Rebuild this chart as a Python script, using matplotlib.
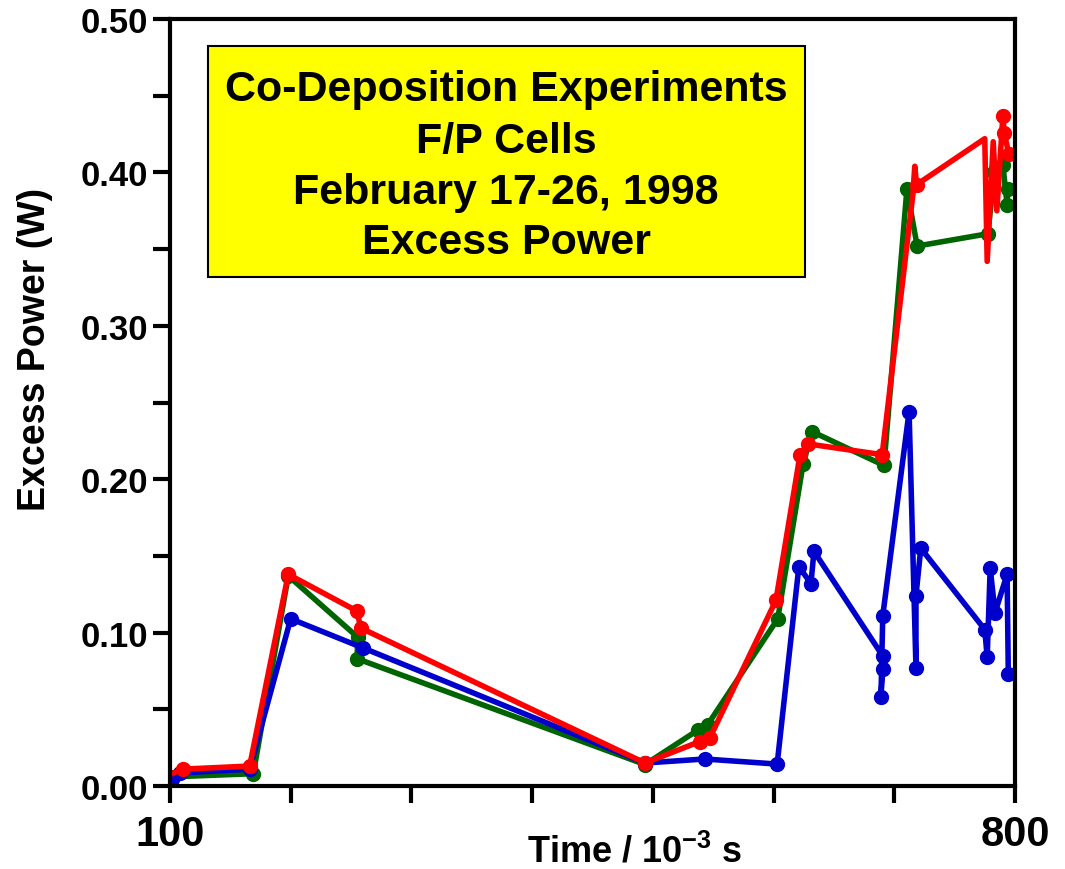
import matplotlib
matplotlib.use("Agg")
import matplotlib.pyplot as plt
import matplotlib.patches as patches
from matplotlib.ticker import MultipleLocator

plt.rcParams["font.family"] = ["Liberation Sans", "DejaVu Sans"]
plt.rcParams["font.weight"] = "bold"
plt.rcParams["mathtext.fontset"] = "custom"
plt.rcParams["mathtext.rm"] = "Liberation Sans:bold"
plt.rcParams["mathtext.bf"] = "Liberation Sans:bold"

# Datos
red_x = [101.5, 110.8, 166, 198, 255, 258, 493.5, 539, 547, 602, 622, 628.5,
         690, 715.5, 717, 718.5, 775, 777, 782, 785, 790, 791, 795]
red_y = [0.008, 0.011, 0.013, 0.138, 0.114, 0.103, 0.015, 0.029, 0.031, 0.121,
         0.216, 0.223, 0.216, 0.386, 0.404, 0.392, 0.422, 0.342, 0.420, 0.375,
         0.437, 0.426, 0.412]
# puntos de la serie roja que llevan marcador (los picos finales no)
red_marked = [1, 2, 3, 4, 5, 6, 7, 8, 9, 10, 11, 12, 15, 20, 21, 22]

green_x = [102.5, 169, 198, 255.5, 255, 493.5, 537.5, 545.5, 603.5, 624.5, 632,
           691.5, 710.5, 719, 777.5, 783, 790, 793.5, 794]
green_y = [0.006, 0.008, 0.137, 0.097, 0.083, 0.014, 0.0365, 0.040, 0.109,
           0.210, 0.231, 0.209, 0.389, 0.352, 0.360, 0.400, 0.405, 0.379, 0.389]

blue_x = [102, 108, 166, 200, 260, 493.5, 543, 603, 621, 631, 633.5, 690.5,
          690.5, 689, 690.5, 712.3, 718, 718, 722, 775, 777, 779.5, 783.5,
          793.5, 794.5]
blue_y = [0.0045, 0.0085, 0.011, 0.109, 0.090, 0.015, 0.0176, 0.0143, 0.143,
          0.132, 0.153, 0.0847, 0.0763, 0.058, 0.111, 0.244, 0.077, 0.124,
          0.155, 0.102, 0.084, 0.142, 0.113, 0.138, 0.073]

x_ticks = [100, 200, 300, 400, 500, 600, 700, 800]
x_labels = ["100", "", "", "", "", "", "", "800"]
y_ticks = [0.0, 0.1, 0.2, 0.3, 0.4, 0.5]
y_labels = ["0.00", "0.10", "0.20", "0.30", "0.40", "0.50"]

title_lines = ["Co-Deposition Experiments", "F/P Cells",
               "February 17-26, 1998", "Excess Power"]

fig = plt.figure(figsize=(10.65, 8.7), dpi=100)
ax = fig.add_axes([0.1596, 0.0954, 0.7934, 0.8816])

ax.plot(green_x, green_y, color="#006400", lw=4, marker="o", ms=10)
ax.plot(blue_x, blue_y, color="#0000cc", lw=4, marker="o", ms=10)
ax.plot(red_x, red_y, color="#ff0000", lw=4, marker="o", ms=10,
        markevery=red_marked)

ax.set_xlim(100, 800)
ax.set_ylim(0, 0.5)
ax.set_xticks(x_ticks)
ax.set_xticklabels(x_labels, fontsize=30, fontweight="bold")
ax.set_yticks(y_ticks)
ax.set_yticklabels(y_labels, fontsize=25, fontweight="bold")
ax.yaxis.set_minor_locator(MultipleLocator(0.05))

ax.tick_params(axis="both", which="both", direction="out", width=3)
ax.tick_params(axis="both", which="major", length=12)
ax.tick_params(axis="y", which="minor", length=12)
ax.tick_params(axis="x", pad=8)
ax.tick_params(axis="y", pad=4)
for sp in ax.spines.values():
    sp.set_linewidth(3)

ax.set_ylabel("Excess Power (W)", fontsize=27, fontweight="bold")
ax.yaxis.set_label_coords(-0.138, 0.57)
ax.set_xlabel("Time / 10$^{\\mathbf{-3}}$ s", fontsize=26, fontweight="bold")
ax.xaxis.set_label_coords(0.55, -0.062)

# Recuadro amarillo con el titulo
rect = patches.Rectangle((0.045, 0.664), 0.706, 0.301, transform=ax.transAxes,
                         facecolor="#ffff00", edgecolor="black", lw=1.5,
                         zorder=5)
ax.add_patch(rect)
for line, yy in zip(title_lines, [0.909, 0.841, 0.774, 0.709]):
    ax.text(0.398, yy, line, transform=ax.transAxes, ha="center", va="center",
            fontsize=31, fontweight="bold", zorder=6)

fig.savefig("out.png", dpi=100)
